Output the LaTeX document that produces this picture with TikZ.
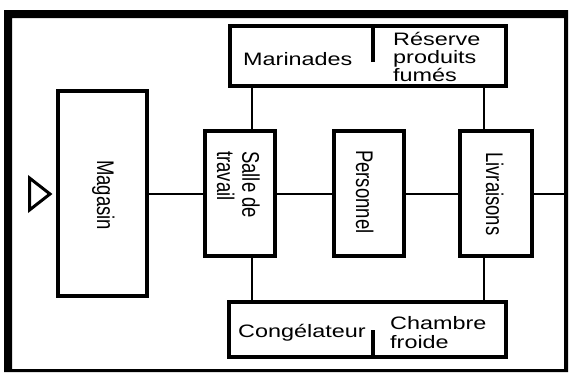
\documentclass[tikz,border=0pt]{standalone}
\usepackage{fontspec}
\setmainfont{Liberation Sans}
\newfontfamily\widefont[FakeStretch=1.3]{Liberation Sans}
\begin{document}
\begin{tikzpicture}[x=1pt,y=-1pt,
  box/.style={draw, line width=4pt, rectangle, inner sep=0pt},
  link/.style={line width=2pt},
  wall/.style={line width=3.5pt},
  hlabel/.style={inner sep=0pt, anchor=base west, align=left,
    font=\widefont\fontsize{18}{18}\selectfont},
  vlabel/.style={inner sep=0pt, anchor=base west, align=left, rotate=-90,
    yscale=1.3, transform shape, font=\fontsize{18.5}{19.5}\selectfont}]
  \useasboundingbox (0,0) rectangle (569,372);
  \fill[white] (0,0) rectangle (569,372);
  % outer frame
  \fill[black, even odd rule] (4,10) rectangle (568,372) (12,18) rectangle (564,369);

  % rooms
  \node[box, minimum width=276, minimum height=60] (top) at (368,56) {};
  \node[box, minimum width=277, minimum height=55] (bottom) at (367.5,329.5) {};
  \node[box, minimum width=89, minimum height=205] (magasin) at (102.5,193.5) {};
  \node[box, minimum width=70, minimum height=125] (salle) at (240,193.5) {};
  \node[box, minimum width=70, minimum height=125] (personnel) at (369,193.5) {};
  \node[box, minimum width=72, minimum height=125] (livraisons) at (496,193.5) {};

  % partitions inside the two long rooms
  \coordinate (d1) at (373,62);
  \coordinate (d2) at (373,330);
  \draw[wall] (d1) -- (d1 |- top.north);
  \draw[wall] (d2) -- (d2 |- bottom.south);

  % labels (multi-line labels are anchored on their last line)
  \node[hlabel] (tmar) at (243,65) {Marinades};
  \node[hlabel] (tres) at (393,81) {Réserve\\produits\\fumés};
  \node[hlabel] (tcon) at (238,337) {Congélateur};
  \node[hlabel, font=\widefont\fontsize{18}{19}\selectfont] (tcha) at (390,348) {Chambre\\froide};
  \node[vlabel] (tmag) at (97,160) {Magasin};
  \node[vlabel] (tsal) at (217,151) {Salle de\\travail};
  \node[vlabel] (tper) at (356,150) {Personnel};
  \node[vlabel] (tliv) at (486,152) {Livraisons};

  % entrance
  \draw[line width=3pt, line join=miter] (29.5,178) -- (50,194) -- (29.5,210) -- cycle;

  % circulation
  \coordinate (exit) at (564,193.5);
  \coordinate (cl) at (252,0);
  \coordinate (cr) at (484,0);
  \draw[link] (magasin.east) -- (salle.west);
  \draw[link] (salle.east) -- (personnel.west);
  \draw[link] (personnel.east) -- (livraisons.west);
  \draw[link] (livraisons.east) -- (exit);
  \draw[link] (cl |- top.south) -- (cl |- salle.north);
  \draw[link] (cl |- salle.south) -- (cl |- bottom.north);
  \draw[link] (cr |- top.south) -- (cr |- livraisons.north);
  \draw[link] (cr |- livraisons.south) -- (cr |- bottom.north);
\end{tikzpicture}
\end{document}
